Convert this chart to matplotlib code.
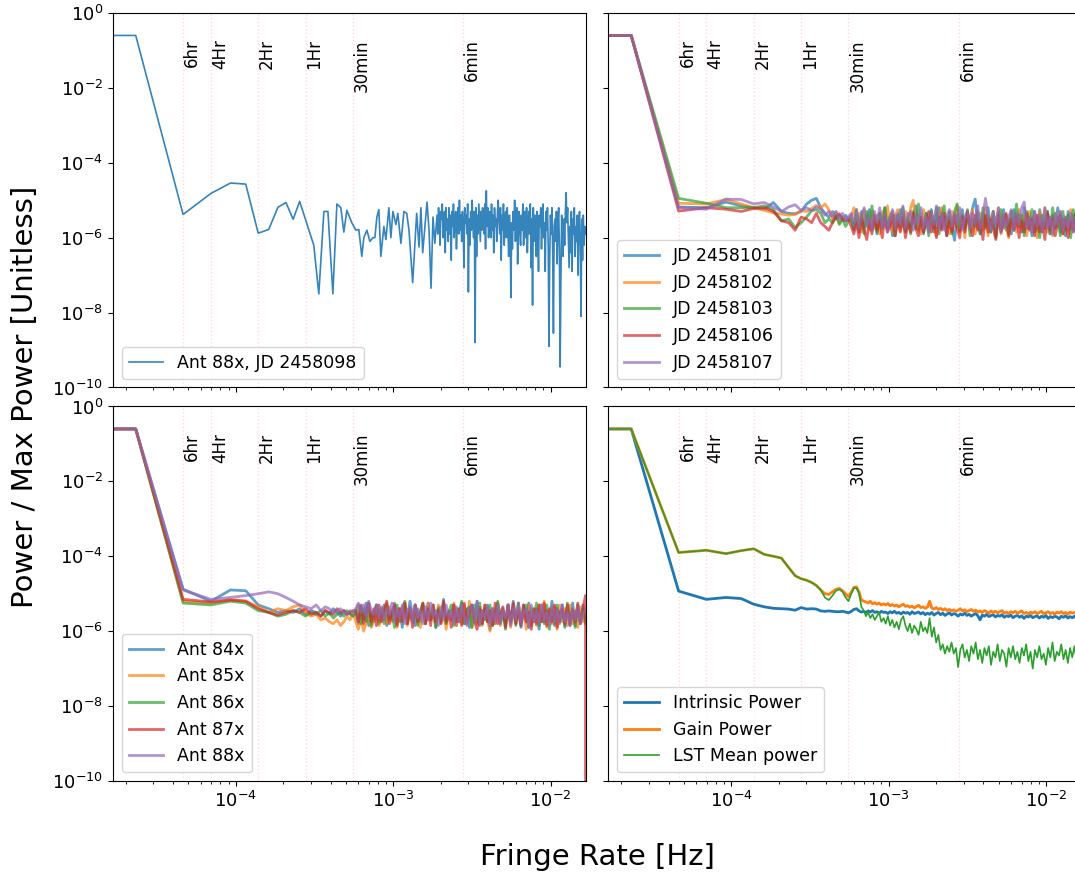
import numpy as np
import matplotlib.pyplot as plt
from matplotlib.ticker import NullLocator

# fringe-rate grid: 12 hr of 30 s samples
DF = 1.0 / 43200
F_MAX = 1.0 / 60

# log10(power / max power)
# Ant 88x, JD 2458098: first bins on the DF grid, then read-off points, then the noisy tail
tl_lo = [-0.6, -0.6, -5.38, -4.82, -4.54, -4.57, -5.88, -5.78, -5.19, -5.06,
         -5.51, -5.03]
tl_mid_f = [3.13e-4, 3.37e-4, 3.63e-4, 3.85e-4, 4.14e-4, 4.39e-4, 4.65e-4, 4.86e-4, 5.08e-4, 5.46e-4,
            5.79e-4, 6.05e-4, 6.32e-4, 6.51e-4, 6.81e-4, 7.11e-4, 7.43e-4, 7.65e-4, 7.88e-4, 8.11e-4,
            8.35e-4, 8.73e-4, 8.99e-4, 9.39e-4, 9.67e-4, 9.96e-4, 1.04e-3, 1.07e-3, 1.12e-3, 1.17e-3,
            1.22e-3, 1.26e-3, 1.33e-3, 1.41e-3, 1.46e-3, 1.50e-3, 1.54e-3, 1.64e-3, 1.69e-3, 1.74e-3,
            1.79e-3, 1.84e-3]
tl_mid = [-6.2, -7.5, -5.3, -5.3, -7.5, -5.1, -5.2, -5.85, -5.27, -5.6,
          -5.8, -5.78, -6.5, -6.0, -5.8, -6.1, -6.0, -6.0, -5.45, -5.25,
          -6.5, -5.7, -6.05, -5.2, -6.0, -5.3, -5.65, -5.35, -6.15, -5.3,
          -5.35, -5.8, -7.2, -5.35, -6.25, -5.2, -6.4, -5.05, -5.8, -7.35,
          -5.45, -6.15]
tl_hi = [-5.4, -5.9, -5.2, -5.6, -6.2, -5.3, -5.5, -5.1, -6.0, -5.7, -5.3, -6.4, -5.2, -5.8, -5.5, -6.1, -5.2, -5.9, -5.4, -6.6,
         -5.3, -5.7, -5.1, -6.0, -5.5, -5.3, -6.3, -5.6, -5.2, -5.9, -5.0, -5.8, -5.4, -6.1, -5.3, -5.7, -6.8, -5.2, -5.6, -5.4,
         -5.9, -5.1, -7.45, -5.5, -6.2, -5.3, -5.8, -5.0, -5.6, -6.0, -5.3, -8.8, -5.2, -6.5, -5.4, -5.9, -5.1, -5.6, -6.1, -5.3,
         -5.8, -5.2, -5.5, -5.9, -5.1, -6.3, -4.75, -5.7, -5.2, -6.0, -5.6, -5.3, -6.0, -5.1, -5.8, -5.4, -6.4, -5.2, -5.7, -5.5,
         -6.1, -5.3, -5.0, -5.6, -5.9, -5.2, -6.6, -5.4, -5.8, -5.1, -6.2, -5.5, -5.3, -6.0, -5.2, -5.7, -6.5, -5.4, -5.9, -7.6,
         -5.6, -6.3, -5.3, -5.8, -5.0, -6.1, -5.5, -5.2, -6.7, -5.6, -5.3, -5.9, -6.2, -5.4, -5.8, -5.1, -6.2, -5.5, -5.3, -6.0,
         -5.2, -6.4, -5.7, -5.3, -5.9, -5.1, -6.8, -5.5, -7.8, -5.2, -6.1, -5.4, -5.6, -6.5, -5.3, -5.9, -6.9, -5.4, -5.7, -5.2,
         -6.3, -5.5, -5.1, -6.0, -5.6, -6.9, -5.3, -5.8, -5.2, -6.2, -8.9, -6.6, -5.4, -5.9, -5.2, -6.4, -8.55, -5.7, -5.5, -6.1,
         -5.3, -6.7, -5.6, -5.2, -6.3, -9.45, -7.1, -5.4, -5.9, -6.5, -5.5, -6.2, -5.3, -4.8, -5.6, -5.2, -6.0, -6.8, -5.7, -6.4,
         -5.3, -6.9, -5.5, -5.9, -5.2, -6.5, -5.7, -6.1, -5.4, -7.0, -5.6, -5.3, -6.3, -8.1, -5.5, -6.6, -5.4, -6.2, -5.7, -5.9]

# Ant 88x on different nights
jd_labels = ['JD 2458101', 'JD 2458102', 'JD 2458103', 'JD 2458106', 'JD 2458107']
jd_lo = [
    [-0.6, -0.6, -5.18, -5.2, -5.05, -5.15, -5.2, -5.24, -5.06, -5.3, -5.35, -5.36, -5.3,
     -5.1, -5.0, -4.95, -5.2, -5.35, -5.45, -5.3, -5.5, -5.4, -5.55, -5.4, -5.5],
    [-0.6, -0.6, -5.08, -5.1, -4.98, -5.1, -5.2, -5.27, -5.34, -5.37, -5.4, -5.38, -5.28,
     -5.3, -5.22, -5.14, -5.2, -5.1, -5.25, -5.5, -5.3, -5.6, -5.45, -5.55, -5.5],
    [-0.6, -0.6, -4.95, -5.08, -5.2, -5.2, -5.2, -5.15, -5.25, -5.55, -5.5, -5.73, -5.6,
     -5.45, -5.28, -5.25, -5.35, -5.6, -5.5, -5.6, -5.4, -5.65, -5.5, -5.7, -5.55],
    [-0.6, -0.6, -5.29, -5.2, -5.24, -5.3, -5.22, -5.2, -5.3, -5.55, -5.6, -5.8, -5.45,
     -5.5, -5.6, -5.35, -5.6, -5.7, -5.8, -5.6, -5.45, -5.36, -5.5, -5.55, -5.5],
    [-0.6, -0.6, -5.2, -5.24, -4.97, -4.98, -5.1, -5.06, -5.18, -5.3, -5.18, -5.12, -5.27,
     -5.2, -5.28, -5.18, -5.25, -5.4, -5.3, -5.45, -5.3, -5.5, -5.35, -5.55, -5.45],
]
jd_hi = [
    [-5.4, -5.75, -5.5, -5.85, -5.3, -5.7, -5.55, -5.25, -5.8, -5.45,
     -5.9, -5.35, -5.65, -5.2, -5.75, -5.5, -5.95, -5.4, -5.7, -5.25,
     -5.6, -5.85, -5.35, -5.7, -5.5, -5.15, -5.8, -5.45, -5.9, -5.35,
     -5.65, -5.25, -5.85, -5.5, -5.2, -5.75, -5.45, -5.95, -5.3, -5.7,
     -6.07, -5.4, -5.8, -5.25, -5.75, -5.45, -5.6, -5.2, -4.97, -5.65,
     -5.9, -5.35, -5.7, -5.2, -5.85, -5.45, -5.95, -5.3, -5.75, -5.25,
     -5.8, -5.5, -5.9, -5.25, -5.7, -5.4, -5.85, -5.2, -5.75, -5.45,
     -5.95, -5.3, -5.8, -5.25, -5.85, -5.5, -5.3, -5.9, -5.4, -5.75,
     -5.2, -5.85, -5.5, -5.95, -5.3, -5.75, -5.4, -5.85, -5.3, -5.7],
    [-5.45, -5.2, -5.7, -5.35, -5.85, -5.25, -5.6, -5.8, -5.3, -5.75,
     -5.4, -5.9, -5.3, -5.7, -5.15, -5.65, -5.85, -5.4, -5.25, -5.8,
     -5.5, -5.3, -5.75, -5.2, -5.0, -5.75, -5.4, -5.9, -5.25, -5.65,
     -5.8, -5.3, -5.7, -5.95, -5.4, -5.2, -5.75, -5.45, -5.9, -5.3,
     -5.7, -5.15, -5.85, -5.4, -6.0, -5.3, -5.75, -5.25, -5.9, -5.45,
     -5.35, -5.8, -5.2, -5.95, -5.5, -5.3, -5.75, -5.2, -5.9, -5.4,
     -5.7, -6.0, -5.3, -5.6, -5.85, -5.25, -5.75, -5.4, -5.95, -5.3,
     -5.8, -5.4, -6.0, -5.3, -5.75, -5.2, -5.85, -5.45, -5.95, -5.35,
     -5.7, -5.3, -5.9, -5.45, -5.8, -5.25, -5.85, -5.4, -5.95, -5.6],
    [-5.5, -5.8, -5.25, -5.75, -5.4, -5.9, -5.3, -5.7, -5.15, -5.6,
     -5.85, -5.35, -5.75, -5.2, -5.8, -5.45, -5.3, -5.95, -5.4, -5.7,
     -5.2, -5.8, -5.5, -5.9, -5.3, -5.75, -5.1, -5.6, -5.85, -5.35,
     -5.95, -5.3, -5.75, -5.2, -5.9, -5.4, -5.15, -5.7, -5.45, -5.9,
     -5.3, -5.1, -5.8, -5.4, -5.75, -5.25, -5.95, -5.5, -5.7, -5.3,
     -5.9, -5.2, -5.75, -5.4, -5.85, -5.3, -6.0, -5.5, -5.25, -5.75,
     -5.4, -5.9, -5.3, -5.8, -5.1, -5.7, -5.4, -5.95, -5.3, -5.75,
     -5.25, -5.85, -5.5, -6.0, -5.4, -5.75, -5.3, -5.9, -5.2, -5.7,
     -5.45, -5.95, -5.3, -5.8, -5.4, -6.0, -5.25, -5.75, -5.45, -5.85],
    [-5.7, -5.9, -5.6, -6.0, -5.5, -5.8, -6.05, -5.55, -5.9, -5.4,
     -5.8, -5.55, -6.0, -5.45, -5.85, -5.7, -5.4, -5.95, -5.55, -5.85,
     -5.45, -6.0, -5.6, -5.85, -5.35, -5.75, -5.95, -5.45, -5.85, -5.6,
     -5.3, -5.85, -5.55, -6.0, -5.45, -5.8, -5.35, -5.95, -5.55, -5.85,
     -5.4, -5.75, -6.0, -5.45, -5.85, -5.3, -5.7, -5.95, -5.4, -5.8,
     -5.55, -6.05, -5.4, -5.85, -5.5, -5.75, -6.05, -5.4, -5.85, -5.55,
     -5.35, -5.95, -5.5, -5.8, -5.4, -6.0, -5.55, -5.85, -5.35, -5.8,
     -5.5, -5.95, -5.4, -5.85, -5.6, -6.05, -5.35, -5.8, -5.5, -5.95,
     -5.6, -5.4, -5.9, -5.5, -6.0, -5.55, -5.8, -5.35, -5.9, -5.6],
    [-5.35, -5.65, -5.25, -5.75, -5.4, -5.2, -5.7, -5.45, -5.8, -5.3,
     -5.6, -5.2, -5.75, -5.4, -5.85, -5.45, -5.25, -5.75, -5.35, -5.65,
     -5.15, -5.75, -5.45, -5.3, -5.8, -5.4, -5.6, -5.2, -5.75, -5.45,
     -5.85, -5.3, -5.65, -5.15, -5.75, -5.35, -5.8, -5.45, -5.25, -5.7,
     -5.35, -5.65, -5.2, -5.8, -5.45, -5.3, -5.75, -5.35, -5.65, -5.15,
     -5.75, -5.4, -4.95, -5.5, -5.8, -5.3, -5.7, -5.2, -5.85, -5.4,
     -5.7, -5.45, -5.25, -5.8, -5.35, -5.65, -5.2, -5.05, -5.75, -5.45,
     -5.85, -5.3, -5.7, -5.4, -5.8, -5.2, -5.75, -5.45, -5.9, -5.35,
     -5.65, -5.3, -5.8, -5.45, -5.75, -5.35, -5.85, -5.45, -5.7, -5.4],
]

# antennas 84x-88x on one night
ant_labels = ['Ant 84x', 'Ant 85x', 'Ant 86x', 'Ant 87x', 'Ant 88x']
ant_lo = [
    [-0.6, -0.6, -4.88, -5.2, -4.9, -4.92, -5.3, -5.4, -5.5, -5.45, -5.5, -5.4, -5.55,
     -5.45, -5.5, -5.6, -5.45, -5.55, -5.4, -5.5, -5.6, -5.45, -5.55, -5.5, -5.6],
    [-0.6, -0.6, -5.2, -5.25, -5.15, -5.2, -5.35, -5.5, -5.4, -5.45, -5.35, -5.3, -5.5,
     -5.6, -5.55, -5.7, -5.65, -5.75, -5.8, -5.7, -5.85, -5.75, -5.6, -5.7, -5.5],
    [-0.6, -0.6, -5.25, -5.3, -5.2, -5.25, -5.45, -5.5, -5.6, -5.55, -5.45, -5.5, -5.6,
     -5.5, -5.55, -5.45, -5.6, -5.5, -5.65, -5.55, -5.5, -5.6, -5.45, -5.55, -5.6],
    [-0.6, -0.6, -5.15, -5.22, -5.17, -5.2, -5.4, -5.5, -5.57, -5.5, -5.45, -5.5, -5.4,
     -5.55, -5.5, -5.6, -5.45, -5.5, -5.55, -5.4, -5.5, -5.45, -5.55, -5.5, -5.45],
    [-0.6, -0.6, -4.9, -5.15, -5.1, -5.05, -5.0, -4.95, -5.0, -5.1, -5.2, -5.3, -5.35,
     -5.4, -5.3, -5.45, -5.35, -5.4, -5.5, -5.45, -5.4, -5.5, -5.55, -5.45, -5.5],
]
ant_hi = [
    [-5.45, -5.8, -5.35, -5.7, -5.25, -5.85, -5.5, -5.75, -5.3, -5.8,
     -5.55, -5.3, -5.85, -5.45, -5.7, -5.25, -5.8, -5.4, -5.9, -5.35,
     -5.7, -5.2, -5.6, -5.85, -5.4, -5.75, -5.3, -5.8, -5.25, -5.7,
     -5.45, -5.9, -5.35, -5.75, -5.15, -5.8, -5.45, -5.7, -5.3, -5.85,
     -5.5, -5.25, -5.8, -5.4, -5.9, -5.3, -5.75, -5.2, -5.85, -5.45,
     -5.7, -5.3, -5.95, -5.4, -5.8, -5.25, -5.75, -5.5, -5.85, -5.3,
     -5.8, -5.2, -5.7, -5.45, -5.9, -5.3, -5.75, -5.25, -5.85, -5.5,
     -5.4, -5.95, -5.3, -5.8, -5.45, -5.7, -5.2, -5.85, -5.4, -5.75,
     -5.3, -5.9, -5.5, -5.75, -5.25, -5.85, -5.4, -5.8, -5.3, -5.7],
    [-5.75, -5.95, -5.65, -6.0, -5.8, -5.6, -5.9, -5.7, -5.5, -5.85,
     -5.6, -5.4, -5.8, -5.35, -5.75, -5.5, -5.9, -5.4, -5.7, -5.25,
     -5.85, -5.45, -5.75, -5.3, -5.7, -5.9, -5.4, -5.8, -5.25, -5.7,
     -5.5, -5.85, -5.3, -5.8, -5.4, -5.95, -5.5, -5.7, -5.25, -5.85,
     -5.4, -5.8, -5.3, -5.75, -5.2, -5.9, -5.45, -5.8, -5.35, -5.85,
     -5.3, -5.7, -6.0, -5.4, -5.8, -5.25, -5.85, -5.45, -5.75, -5.3,
     -5.9, -5.4, -5.8, -5.25, -5.75, -5.45, -5.95, -5.3, -5.8, -5.4,
     -5.85, -5.3, -5.75, -5.2, -5.9, -5.45, -5.8, -5.35, -5.95, -5.3,
     -5.75, -5.4, -5.85, -5.3, -5.8, -5.45, -5.9, -5.35, -5.75, -5.5],
    [-5.5, -5.3, -5.8, -5.4, -5.75, -5.25, -5.85, -5.5, -5.3, -5.75,
     -5.4, -5.8, -5.25, -5.7, -5.45, -5.9, -5.3, -5.75, -5.4, -5.2,
     -5.8, -5.4, -5.75, -5.3, -5.85, -5.5, -5.25, -5.8, -5.4, -5.7,
     -5.3, -5.9, -5.4, -5.75, -5.25, -5.8, -5.5, -5.3, -5.85, -5.4,
     -5.75, -5.2, -5.8, -5.45, -5.35, -5.9, -5.3, -5.75, -5.25, -5.8,
     -5.4, -5.75, -5.3, -5.85, -5.5, -5.2, -5.8, -5.4, -5.95, -5.3,
     -5.75, -5.4, -5.85, -5.25, -5.8, -5.5, -5.3, -5.9, -5.4, -5.75,
     -5.25, -5.85, -5.45, -5.75, -5.3, -5.95, -5.4, -5.8, -5.3, -5.75,
     -5.45, -5.85, -5.25, -5.8, -5.4, -5.9, -5.3, -5.75, -5.4, -5.8],
    [-5.45, -5.75, -5.3, -5.8, -5.5, -5.25, -5.75, -5.4, -5.85, -5.3,
     -5.75, -5.45, -5.2, -5.8, -5.5, -5.3, -5.85, -5.4, -5.75, -5.25,
     -5.8, -5.4, -5.9, -5.3, -5.75, -5.5, -5.25, -5.8, -5.4, -5.85,
     -5.3, -5.75, -5.45, -5.8, -5.2, -5.75, -5.5, -5.9, -5.3, -5.75,
     -5.4, -5.85, -5.25, -5.8, -5.5, -5.3, -5.75, -5.95, -5.4, -5.8,
     -5.3, -5.75, -5.45, -5.85, -5.25, -5.8, -5.5, -5.35, -5.9, -5.3,
     -5.75, -5.25, -5.8, -5.45, -5.85, -5.3, -5.75, -5.5, -5.95, -5.4,
     -5.8, -5.3, -5.75, -5.25, -5.85, -5.4, -5.75, -5.3, -5.9, -5.5,
     -5.4, -5.8, -5.3, -5.85, -5.45, -5.75, -5.25, -5.8, -5.4, -5.05],
    [-5.4, -5.25, -5.5, -5.3, -5.6, -5.2, -5.45, -5.55, -5.3, -5.65,
     -5.35, -5.7, -5.4, -5.55, -5.25, -5.75, -5.4, -5.65, -5.3, -5.8,
     -5.45, -5.35, -5.75, -5.3, -5.65, -5.45, -5.8, -5.35, -5.7, -5.25,
     -5.6, -5.45, -5.85, -5.35, -5.7, -5.3, -5.65, -5.45, -5.8, -5.35,
     -5.75, -5.3, -5.6, -5.85, -5.4, -5.3, -5.75, -5.2, -5.8, -5.45,
     -5.65, -5.35, -5.85, -5.4, -5.75, -5.3, -5.8, -5.45, -5.65, -5.3,
     -5.85, -5.4, -5.7, -5.25, -5.8, -5.5, -5.4, -5.9, -5.3, -5.75,
     -5.45, -5.8, -5.3, -5.7, -5.5, -5.85, -5.35, -5.75, -5.4, -5.8,
     -5.3, -5.75, -5.5, -5.85, -5.4, -5.7, -5.35, -5.8, -5.5, -5.45],
]
# Ant 87x drops to zero in its last bin
ant87_last = -12.0

# power breakdown
pw_labels = ['Intrinsic Power', 'Gain Power', 'LST Mean power']
pw_lo = [
    [-0.6, -0.6, -4.93, -5.15, -5.1, -5.13, -5.28, -5.35, -5.39, -5.4, -5.41, -5.44, -5.37, -5.41, -5.4,
     -5.41, -5.46, -5.47, -5.46, -5.47, -5.48, -5.48, -5.47, -5.49, -5.51, -5.47, -5.42, -5.4, -5.46, -5.49],
    [-0.6, -0.6, -3.9, -3.84, -3.93, -3.85, -3.8, -3.95, -4.0, -4.05, -4.3, -4.52, -4.6, -4.64, -4.7,
     -4.78, -4.9, -5.0, -5.02, -4.95, -4.88, -4.86, -4.92, -5.0, -5.08, -4.95, -4.83, -4.82, -4.95, -5.17],
    [-0.6, -0.6, -3.9, -3.84, -3.93, -3.85, -3.8, -3.95, -4.0, -4.05, -4.3, -4.52, -4.6, -4.64, -4.7,
     -4.78, -4.9, -5.1, -5.17, -5.05, -4.92, -4.88, -4.95, -5.1, -5.2, -5.0, -4.85, -4.85, -5.0, -5.35],
]
pw_hi = [
    [-5.47, -5.5, -5.46, -5.49, -5.45, -5.5, -5.48, -5.52, -5.47, -5.5,
     -5.49, -5.53, -5.48, -5.51, -5.47, -5.52, -5.5, -5.54, -5.49, -5.52,
     -5.5, -5.55, -5.48, -5.53, -5.51, -5.49, -5.54, -5.5, -5.56, -5.52,
     -5.55, -5.5, -5.57, -5.53, -5.5, -5.56, -5.52, -5.58, -5.54, -5.51,
     -5.57, -5.53, -5.55, -5.6, -5.54, -5.57, -5.52, -5.58, -5.55, -5.6,
     -5.56, -5.53, -5.59, -5.7, -5.57, -5.6, -5.55, -5.61, -5.58, -5.56,
     -5.62, -5.58, -5.6, -5.56, -5.63, -5.59, -5.61, -5.57, -5.64, -5.6,
     -5.58, -5.63, -5.59, -5.66, -5.6, -5.62, -5.58, -5.64, -5.61, -5.59,
     -5.65, -5.6, -5.63, -5.58, -5.66, -5.61, -5.64, -5.6, -5.62, -5.67,
     -5.6, -5.63, -5.59, -5.65, -5.61, -5.64, -5.6, -5.66, -5.62, -5.64],
    [-5.2, -5.22, -5.25, -5.2, -5.27, -5.24, -5.28, -5.25, -5.3, -5.27,
     -5.3, -5.26, -5.32, -5.29, -5.33, -5.3, -5.35, -5.31, -5.28, -5.34,
     -5.32, -5.36, -5.33, -5.38, -5.34, -5.31, -5.37, -5.35, -5.39, -5.36,
     -5.2, -5.38, -5.41, -5.37, -5.42, -5.39, -5.44, -5.4, -5.45, -5.42,
     -5.46, -5.43, -5.47, -5.44, -5.4, -5.46, -5.43, -5.48, -5.45, -5.42,
     -5.47, -5.44, -5.49, -5.46, -5.5, -5.45, -5.48, -5.52, -5.46, -5.5,
     -5.47, -5.51, -5.48, -5.45, -5.52, -5.49, -5.53, -5.48, -5.51, -5.47,
     -5.52, -5.49, -5.46, -5.53, -5.5, -5.54, -5.49, -5.52, -5.48, -5.53,
     -5.5, -5.47, -5.54, -5.51, -5.48, -5.53, -5.5, -5.55, -5.49, -5.52,
     -5.48, -5.53, -5.5, -5.55, -5.49, -5.52, -5.5, -5.54, -5.51, -5.52],
    [-5.45, -5.6, -5.5, -5.65, -5.55, -5.7, -5.6, -5.5, -5.75, -5.65,
     -5.8, -5.6, -5.85, -5.7, -5.9, -5.75, -5.95, -5.7, -5.6, -5.85,
     -6.0, -5.8, -6.05, -5.85, -5.95, -6.1, -5.75, -6.0, -5.9, -6.05,
     -5.65, -6.15, -5.9, -6.3, -6.1, -6.5, -6.35, -6.6, -6.4, -6.55,
     -6.3, -6.6, -6.45, -6.96, -6.5, -6.35, -6.7, -6.5, -6.8, -6.4,
     -6.6, -6.3, -6.75, -6.5, -6.85, -6.45, -6.65, -6.4, -6.9, -6.55,
     -6.7, -6.35, -6.8, -6.5, -6.6, -6.95, -6.45, -6.7, -6.4, -6.75,
     -6.55, -6.85, -6.45, -6.65, -6.35, -6.8, -6.55, -7.0, -6.5, -6.7,
     -6.4, -6.75, -6.6, -6.9, -6.45, -6.7, -6.3, -6.8, -6.55, -6.65,
     -6.35, -6.75, -6.5, -6.85, -6.45, -6.7, -6.4, -6.8, -6.5, -6.6],
]

periods = [6 * 3600, 4 * 3600, 2 * 3600, 3600, 1800, 360]
period_labels = ['6hr', '4Hr', '2Hr', '1Hr', '30min', '6min']


def spec(lo, hi):
    # lo sits on the DF grid from 0, hi is spread up to the Nyquist rate
    f = np.concatenate([np.arange(len(lo)) * DF,
                        np.geomspace(len(lo) * DF, F_MAX, len(hi))])
    return f, 10.0 ** np.array(lo + hi)


fig, axs = plt.subplots(2, 2, sharex=True, sharey=True, figsize=(10.75, 8.77), dpi=100)
fig.subplots_adjust(left=0.1051, right=1.0056, bottom=0.1095, top=0.9852,
                    wspace=0.0486, hspace=0.0507)

# top left: single night
f_tl = np.concatenate([np.arange(len(tl_lo)) * DF, tl_mid_f,
                       np.geomspace(1.9e-3, F_MAX, len(tl_hi))])
p_tl = 10.0 ** np.array(tl_lo + tl_mid + tl_hi)
axs[0, 0].plot(f_tl, p_tl, color='C0', lw=1.2, alpha=0.9, label='Ant 88x, JD 2458098')

for i in range(5):
    f, p = spec(jd_lo[i], jd_hi[i])
    axs[0, 1].plot(f, p, color='C%d' % i, lw=2, alpha=0.7, label=jd_labels[i])
    f, p = spec(ant_lo[i], ant_hi[i])
    if i == 3:
        f = np.append(f, F_MAX)
        p = np.append(p, 10.0 ** ant87_last)
    axs[1, 0].plot(f, p, color='C%d' % i, lw=2, alpha=0.7, label=ant_labels[i])

for i in range(3):
    f, p = spec(pw_lo[i], pw_hi[i])
    axs[1, 1].plot(f, p, color='C%d' % i, lw=2 if i < 2 else 1.2, label=pw_labels[i])

for ax in axs.flat:
    ax.set_xscale('log')
    ax.set_yscale('log')
    for T, lab in zip(periods, period_labels):
        ax.axvline(1.0 / T, color='r', ls=':', lw=1, alpha=0.15, zorder=0)
        ax.text(1.0 / T, 0.2, lab, rotation=90, ha='left', va='top', fontsize=12)
    ax.legend(loc='lower left', fontsize=12.5)
    ax.tick_params(labelsize=13)

axs[0, 0].set_yticks(10.0 ** np.arange(-10, 1, 2))
axs[0, 0].yaxis.set_minor_locator(NullLocator())
axs[0, 0].set_ylim(1e-10, 1)
axs[0, 0].set_xlim(1.66e-5, F_MAX)

fig.text(0.5553, 0.0228, 'Fringe Rate [Hz]', ha='center', va='center', fontsize=21)
fig.text(0.023, 0.547, 'Power / Max Power [Unitless]', rotation=90,
         ha='center', va='center', fontsize=21)

fig.savefig('out.png', dpi=100)
